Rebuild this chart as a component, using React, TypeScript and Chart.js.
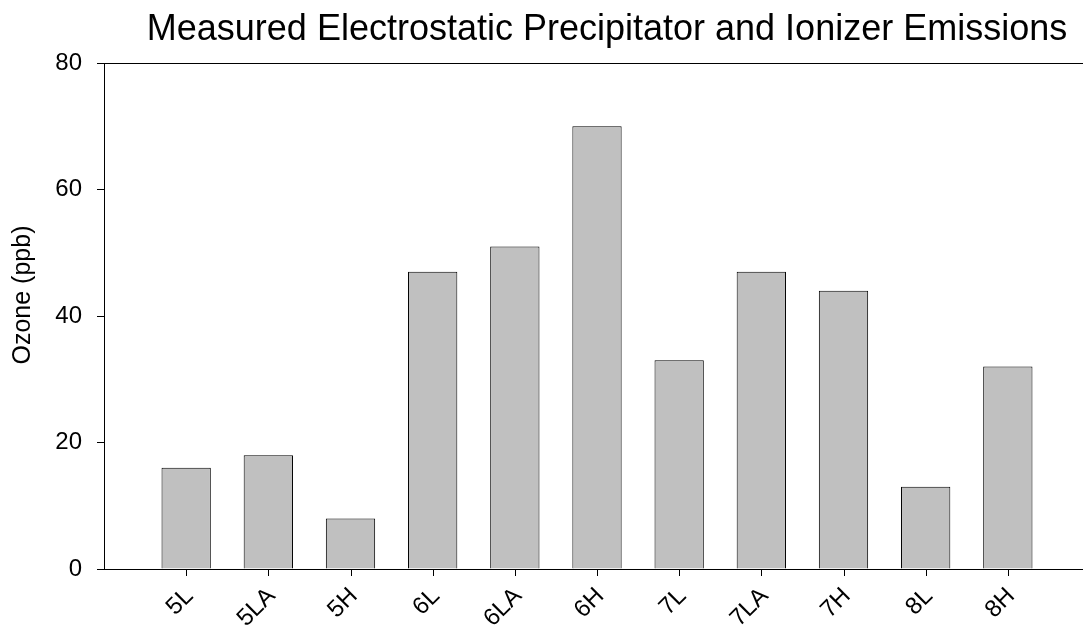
import React, { useEffect, useRef } from "react";
import { Chart, registerables } from "chart.js";

Chart.register(...registerables);

const categories = ["5L", "5LA", "5H", "6L", "6LA", "6H", "7L", "7LA", "7H", "8L", "8H"];
const ozoneValues = [16, 18, 8, 47, 51, 70, 33, 47, 44, 13, 32];
const yTicks = [0, 20, 40, 60, 80];
const titleText = "Measured Electrostatic Precipitator and Ionizer Emissions";
const yTitleText = "Ozone (ppb)";

const FONT = "'Liberation Sans', Arial, sans-serif";

const framePlugin = {
  id: "frame",
  afterDraw(chart: any) {
    const { ctx, chartArea } = chart;
    ctx.save();
    ctx.strokeStyle = "#000";
    ctx.lineWidth = 1;
    const y = Math.round(chartArea.top) + 0.5;
    ctx.beginPath();
    ctx.moveTo(chartArea.left, y);
    ctx.lineTo(chartArea.right, y);
    ctx.stroke();

    // x tick marks and rotated labels at category centres
    const xs = chart.scales.x;
    const yb = Math.round(chartArea.bottom);
    ctx.beginPath();
    categories.forEach((_, i) => {
      const px = Math.round(xs.getPixelForValue(i + 1)) + 0.5;
      ctx.moveTo(px, yb);
      ctx.lineTo(px, yb + 7);
    });
    ctx.stroke();

    ctx.fillStyle = "#000";
    ctx.font = `24px ${FONT}`;
    categories.forEach((label, i) => {
      const px = xs.getPixelForValue(i + 1);
      ctx.save();
      ctx.translate(px + 8, yb + 28);
      ctx.rotate(-Math.PI / 4);
      ctx.textAlign = "right";
      ctx.textBaseline = "alphabetic";
      ctx.fillText(label, 0, 0);
      ctx.restore();
    });

    ctx.font = `36px ${FONT}`;
    ctx.textAlign = "center";
    ctx.textBaseline = "alphabetic";
    ctx.fillText(titleText, 607, 40);

    ctx.font = `25px ${FONT}`;
    ctx.translate(30, 295);
    ctx.rotate(-Math.PI / 2);
    ctx.textAlign = "center";
    ctx.textBaseline = "alphabetic";
    ctx.fillText(yTitleText, 0, 0);
    ctx.restore();
  },
};

export default function App() {
  const ref = useRef<HTMLCanvasElement | null>(null);

  useEffect(() => {
    if (!ref.current) return;
    const chart = new Chart(ref.current, {
      type: "bar",
      data: {
        datasets: [
          {
            data: ozoneValues.map((v, i) => ({ x: i + 1, y: v })) as any,
            backgroundColor: "#c0c0c0",
            borderColor: "#000",
            borderWidth: 1,
            barPercentage: 0.6,
            categoryPercentage: 1,
          },
        ],
      },
      options: {
        responsive: false,
        animation: false,
        devicePixelRatio: 1,
        layout: { padding: { top: 63, right: 10, left: 0, bottom: 0 } },
        plugins: {
          legend: { display: false },
          tooltip: { enabled: false },
          title: { display: false },
        },
        scales: {
          x: {
            type: "linear",
            min: 0,
            max: 12,
            offset: false,
            afterBuildTicks: (scale: any) => {
              scale.ticks = scale.ticks.filter((t: any) => t.value >= 1 && t.value <= categories.length);
            },
            afterFit: (scale: any) => {
              scale.height = 56;
            },
            ticks: {
              display: false,
              stepSize: 1,
              autoSkip: false,
            },
            grid: {
              display: false,
              offset: false,
            },
            border: { display: true, color: "#000", width: 1 },
          },
          y: {
            min: 0,
            max: 80,
            afterBuildTicks: (scale: any) => {
              scale.ticks = yTicks.map((v) => ({ value: v }));
            },
            afterFit: (scale: any) => {
              scale.width = 104;
            },
            ticks: {
              stepSize: 20,
              padding: 15,
              color: "#000",
              font: { family: FONT, size: 24 },
            },
            grid: {
              display: true,
              drawOnChartArea: false,
              drawTicks: true,
              tickLength: 7,
              tickColor: "#000",
              tickWidth: 1,
            },
            border: { display: true, color: "#000", width: 1 },
          },
        },
      },
      plugins: [framePlugin],
    });
    return () => chart.destroy();
  }, []);

  return (
    <div
      style={{
        position: "fixed",
        left: 0,
        top: 0,
        width: 1083,
        height: 625,
        overflow: "hidden",
        background: "#fff",
      }}
    >
      <canvas ref={ref} width={1100} height={625} style={{ width: 1100, height: 625, display: "block" }} />
    </div>
  );
}
